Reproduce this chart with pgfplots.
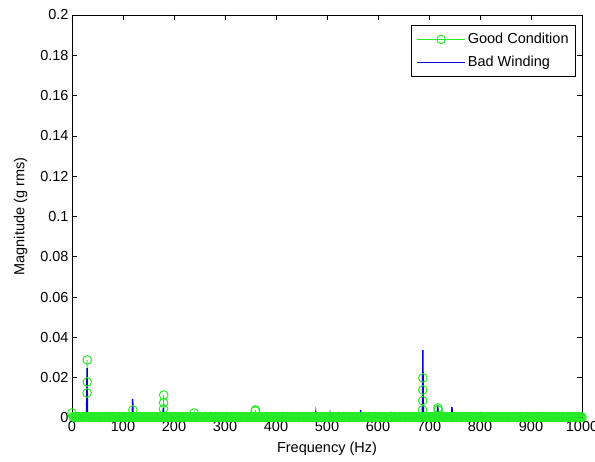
\documentclass[border=0pt]{standalone}
\usepackage{pgfplots}
\pgfplotsset{compat=1.18}
\usepackage{fontspec}
\setmainfont{Liberation Sans}
\definecolor{mgreen}{rgb}{0.15,0.92,0.15}
\definecolor{mblue}{rgb}{0,0,0.85}
\newcommand{\ff}{\fontsize{14.5bp}{17bp}\selectfont}
\begin{document}
\begin{tikzpicture}
\begin{axis}[
  scale only axis, width=510bp, height=403bp,
  xmin=0, xmax=1000, ymin=0, ymax=0.2,
  xtick={0,100,200,300,400,500,600,700,800,900,1000},
  xticklabels={0,100,200,300,400,500,600,700,800,900,1000},
  ytick={0,0.02,0.04,0.06,0.08,0.1,0.12,0.14,0.16,0.18,0.2},
  yticklabels={0,0.02,0.04,0.06,0.08,0.1,0.12,0.14,0.16,0.18,0.2},
  scaled y ticks=false, scaled x ticks=false,
  tick align=inside, major tick length=5bp,
  every tick/.style={black, line width=0.6bp},
  axis line style={line width=0.6bp},
  tick label style={font=\ff},
  label style={font=\ff},
  xlabel={Frequency (Hz)}, ylabel={Magnitude (g rms)},
  xlabel style={yshift=-3bp},
  ylabel style={yshift=6bp},
  clip=false, axis on top=true,
  legend style={at={(0.988,0.975)}, anchor=north east, font=\ff, draw=black, line width=0.6bp, inner xsep=5bp, inner ysep=6bp, row sep=7bp},
  legend cell align=left,
  legend image code/.code={\draw[#1, mark repeat=2, mark phase=2] plot coordinates {(0bp,0bp)(24bp,0bp)(48bp,0bp)};},
]
\coordinate (bl) at (rel axis cs:0,0);
\coordinate (tr) at (rel axis cs:1,1);
\addplot[mgreen, line width=0.9bp, mark=o, mark size=4.3bp, mark options={line width=1bp}] coordinates {
(0,0.0025)(2,0.0007)(4,0.0003)(6,0.0006)(8,0.0005)(10,0.0004)(12,0.0007)(14,0.0003)(16,0.0006)(18,0.0005)
(20,0.0004)(22,0.0007)(24,0.0003)(26,0.0006)(28,0.0005)(29.6,0.0124)(29.8,0.0288)(30,0.0179)(30.3,0.0006)(32,0.0007)(34,0.0003)(36,0.0006)(38,0.0005)
(40,0.0004)(42,0.0007)(44,0.0003)(46,0.0006)(48,0.0005)(50,0.0004)(52,0.0007)(54,0.0003)(56,0.0006)(58,0.0005)
(60,0.0004)(62,0.0007)(64,0.0003)(66,0.0006)(68,0.0005)(70,0.0004)(72,0.0007)(74,0.0003)(76,0.0006)(78,0.0005)
(80,0.0004)(82,0.0007)(84,0.0003)(86,0.0006)(88,0.0005)(90,0.0004)(92,0.0007)(94,0.0003)(96,0.0006)(98,0.0005)
(100,0.0004)(102,0.0007)(104,0.0003)(106,0.0006)(108,0.0005)(110,0.0004)(112,0.0007)(114,0.0003)(116,0.0006)(118,0.0005)
(119.5,0.004)(120.5,0.0005)(122,0.0007)(124,0.0003)(126,0.0006)(128,0.0005)(130,0.0004)(132,0.0007)(134,0.0003)(136,0.0006)(138,0.0005)
(140,0.0004)(142,0.0007)(144,0.0003)(146,0.0006)(148,0.0005)(150,0.0004)(152,0.0007)(154,0.0003)(156,0.0006)(158,0.0005)
(160,0.0004)(162,0.0007)(164,0.0003)(166,0.0006)(168,0.0005)(170,0.0004)(172,0.0007)(174,0.0003)(176,0.0006)(178,0.0005)
(179.4,0.0045)(179.6,0.0076)(179.8,0.0114)(180.3,0.0006)(182,0.0007)(184,0.0003)(186,0.0006)(188,0.0005)(190,0.0004)(192,0.0007)(194,0.0003)(196,0.0006)(198,0.0005)
(200,0.0004)(202,0.0007)(204,0.0003)(206,0.0006)(208,0.0005)(210,0.0004)(212,0.0007)(214,0.0003)(216,0.0006)(218,0.0005)
(220,0.0004)(222,0.0007)(224,0.0003)(226,0.0006)(228,0.0005)(230,0.0004)(232,0.0007)(234,0.0003)(236,0.0006)(238,0.0005)
(239.5,0.0025)(240.5,0.0004)(242,0.0007)(244,0.0003)(246,0.0006)(248,0.0005)(250,0.0004)(252,0.0007)(254,0.0003)(256,0.0006)(258,0.0005)
(260,0.0004)(262,0.0007)(264,0.0003)(266,0.0006)(268,0.0005)(270,0.0004)(272,0.0007)(274,0.0003)(276,0.0006)(278,0.0005)
(280,0.0004)(282,0.0007)(284,0.0003)(286,0.0006)(288,0.0005)(290,0.0004)(292,0.0007)(294,0.0003)(296,0.0006)(298,0.0005)
(300,0.0004)(302,0.0007)(304,0.0003)(306,0.0006)(308,0.0005)(310,0.0004)(312,0.0007)(314,0.0003)(316,0.0006)(318,0.0005)
(320,0.0004)(322,0.0007)(324,0.0003)(326,0.0006)(328,0.0005)(330,0.0004)(332,0.0007)(334,0.0003)(336,0.0006)(338,0.0005)
(340,0.0004)(342,0.0007)(344,0.0003)(346,0.0006)(348,0.0005)(350,0.0004)(352,0.0007)(354,0.0003)(356,0.0006)(358,0.0005)
(359.4,0.0035)(359.7,0.004)(360.3,0.0004)(362,0.0007)(364,0.0003)(366,0.0006)(368,0.0005)(370,0.0004)(372,0.0007)(374,0.0003)(376,0.0006)(378,0.0005)
(380,0.0004)(382,0.0007)(384,0.0003)(386,0.0006)(388,0.0005)(390,0.0004)(392,0.0007)(394,0.0003)(396,0.0006)(398,0.0005)
(400,0.0004)(402,0.0007)(404,0.0003)(406,0.0006)(408,0.0005)(410,0.0004)(412,0.0007)(414,0.0003)(416,0.0006)(418,0.0005)
(420,0.0004)(422,0.0007)(424,0.0003)(426,0.0006)(428,0.0005)(430,0.0004)(432,0.0007)(434,0.0003)(436,0.0006)(438,0.0005)
(440,0.0004)(442,0.0007)(444,0.0003)(446,0.0006)(448,0.0005)(450,0.0004)(452,0.0007)(454,0.0003)(456,0.0006)(458,0.0005)
(460,0.0004)(462,0.0007)(464,0.0003)(466,0.0006)(468,0.0005)(470,0.0004)(472,0.0007)(474,0.0003)(476,0.0006)(478,0.0005)
(480,0.0004)(482,0.0007)(484,0.0003)(486,0.0006)(488,0.0005)(490,0.0004)(492,0.0007)(494,0.0003)(496,0.0006)(498,0.0005)
(500,0.0004)(502,0.0007)(504,0.0003)(506,0.0006)(508,0.0005)(510,0.0004)(512,0.0007)(514,0.0003)(516,0.0006)(518,0.0005)
(520,0.0004)(522,0.0007)(524,0.0003)(526,0.0006)(528,0.0005)(530,0.0004)(532,0.0007)(534,0.0003)(536,0.0006)(538,0.0005)
(540,0.0004)(542,0.0007)(544,0.0003)(546,0.0006)(548,0.0005)(550,0.0004)(552,0.0007)(554,0.0003)(556,0.0006)(558,0.0005)
(560,0.0004)(562,0.0007)(564,0.0003)(566,0.0006)(568,0.0005)(570,0.0004)(572,0.0007)(574,0.0003)(576,0.0006)(578,0.0005)
(580,0.0004)(582,0.0007)(584,0.0003)(586,0.0006)(588,0.0005)(590,0.0004)(592,0.0007)(594,0.0003)(596,0.0006)(598,0.0005)
(600,0.0004)(602,0.0007)(604,0.0003)(606,0.0006)(608,0.0005)(610,0.0004)(612,0.0007)(614,0.0003)(616,0.0006)(618,0.0005)
(620,0.0004)(622,0.0007)(624,0.0003)(626,0.0006)(628,0.0005)(630,0.0004)(632,0.0007)(634,0.0003)(636,0.0006)(638,0.0005)
(640,0.0004)(642,0.0007)(644,0.0003)(646,0.0006)(648,0.0005)(650,0.0004)(652,0.0007)(654,0.0003)(656,0.0006)(658,0.0005)
(660,0.0004)(662,0.0007)(664,0.0003)(666,0.0006)(668,0.0005)(670,0.0004)(672,0.0007)(674,0.0003)(676,0.0006)(678,0.0005)
(680,0.0004)(682,0.0007)(684,0.0003)(686,0.0006)(687.4,0.004)(687.6,0.0086)(687.8,0.0139)(688,0.0199)(688.4,0.0005)(690,0.0004)(692,0.0007)(694,0.0003)(696,0.0006)(698,0.0005)
(700,0.0004)(702,0.0007)(704,0.0003)(706,0.0006)(708,0.0005)(710,0.0004)(712,0.0007)(714,0.0003)(716,0.0006)(717.5,0.005)(718,0.004)(718.5,0.0005)
(720,0.0004)(722,0.0007)(724,0.0003)(726,0.0006)(728,0.0005)(730,0.0004)(732,0.0007)(734,0.0003)(736,0.0006)(738,0.0005)
(740,0.0004)(742,0.0007)(744,0.0003)(746,0.0006)(748,0.0005)(750,0.0004)(752,0.0007)(754,0.0003)(756,0.0006)(758,0.0005)
(760,0.0004)(762,0.0007)(764,0.0003)(766,0.0006)(768,0.0005)(770,0.0004)(772,0.0007)(774,0.0003)(776,0.0006)(778,0.0005)
(780,0.0004)(782,0.0007)(784,0.0003)(786,0.0006)(788,0.0005)(790,0.0004)(792,0.0007)(794,0.0003)(796,0.0006)(798,0.0005)
(800,0.0004)(802,0.0007)(804,0.0003)(806,0.0006)(808,0.0005)(810,0.0004)(812,0.0007)(814,0.0003)(816,0.0006)(818,0.0005)
(820,0.0004)(822,0.0007)(824,0.0003)(826,0.0006)(828,0.0005)(830,0.0004)(832,0.0007)(834,0.0003)(836,0.0006)(838,0.0005)
(840,0.0004)(842,0.0007)(844,0.0003)(846,0.0006)(848,0.0005)(850,0.0004)(852,0.0007)(854,0.0003)(856,0.0006)(858,0.0005)
(860,0.0004)(862,0.0007)(864,0.0003)(866,0.0006)(868,0.0005)(870,0.0004)(872,0.0007)(874,0.0003)(876,0.0006)(878,0.0005)
(880,0.0004)(882,0.0007)(884,0.0003)(886,0.0006)(888,0.0005)(890,0.0004)(892,0.0007)(894,0.0003)(896,0.0006)(898,0.0005)
(900,0.0004)(902,0.0007)(904,0.0003)(906,0.0006)(908,0.0005)(910,0.0004)(912,0.0007)(914,0.0003)(916,0.0006)(918,0.0005)
(920,0.0004)(922,0.0007)(924,0.0003)(926,0.0006)(928,0.0005)(930,0.0004)(932,0.0007)(934,0.0003)(936,0.0006)(938,0.0005)
(940,0.0004)(942,0.0007)(944,0.0003)(946,0.0006)(948,0.0005)(950,0.0004)(952,0.0007)(954,0.0003)(956,0.0006)(958,0.0005)
(960,0.0004)(962,0.0007)(964,0.0003)(966,0.0006)(968,0.0005)(970,0.0004)(972,0.0007)(974,0.0003)(976,0.0006)(978,0.0005)
(980,0.0004)(982,0.0007)(984,0.0003)(986,0.0006)(988,0.0005)(990,0.0004)(992,0.0007)(994,0.0003)(996,0.0006)(998,0.0005)
(1000,0.0004)
};
\addlegendentry{Good Condition}
\addplot[mblue, line width=1.4bp, mark=none] coordinates {
(0,0.0003)(28.5,0.0003)(29.5,0.0248)(30.5,0.0003)(118,0.0003)(119,0.0095)(120,0.0003)
(178,0.0003)(179,0.005)(180,0.0003)(208,0.0003)(209,0.0012)(210,0.0003)
(238,0.0003)(239,0.003)(240,0.0003)(477,0.0003)(478,0.0025)(479,0.0003)
(505,0.0003)(506,0.002)(507,0.0003)(565,0.0003)(566,0.004)(567,0.0003)
(624,0.0003)(625,0.003)(626,0.0003)(687,0.0003)(688,0.0337)(689,0.0003)
(716,0.0003)(717,0.0065)(718,0.0003)(744,0.0003)(745,0.0055)(746,0.0003)
(802,0.0003)(803,0.003)(804,0.0003)(1000,0.0003)
};
\addlegendentry{Bad Winding}
\end{axis}
\pgfresetboundingbox
\path[use as bounding box] ([xshift=-72bp,yshift=-44bp]bl) rectangle ([xshift=13bp,yshift=15bp]tr);
\end{tikzpicture}
\end{document}
